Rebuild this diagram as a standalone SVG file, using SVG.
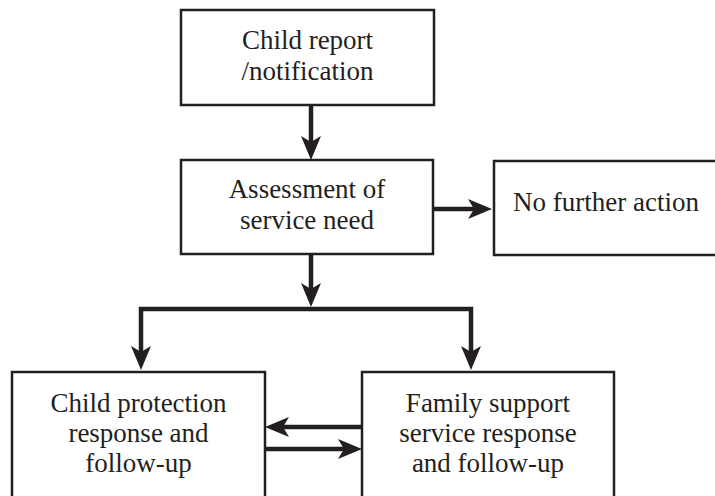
<svg xmlns="http://www.w3.org/2000/svg" width="715" height="496" viewBox="0 0 715 496">
<style>
.box{fill:#fff;stroke:#231f20;stroke-width:2.5}
.lbl{font-family:"Liberation Serif","Times New Roman",serif;font-size:27px;fill:#231f20;text-anchor:middle}
.conn{fill:none;stroke:#231f20;stroke-width:4.5;stroke-linejoin:miter}
</style>
<defs>
<marker id="ah" markerUnits="userSpaceOnUse" viewBox="0 0 24 20" refX="10" refY="10" markerWidth="24" markerHeight="20" orient="auto">
<path d="M0,0 L24,10 L0,20 L6,10 Z" fill="#231f20"/>
</marker>
</defs>
<rect width="715" height="496" fill="#fff"/>
<g id="n1"><rect class="box" x="181" y="10" width="253" height="95"/>
<text class="lbl" x="307.5" y="49">Child report</text><text class="lbl" x="307.5" y="80">/notification</text></g>
<g id="n2"><rect class="box" x="181" y="160" width="252" height="94"/>
<text class="lbl" x="307" y="198">Assessment of</text><text class="lbl" x="307" y="229">service need</text></g>
<g id="n3"><rect class="box" x="494" y="161" width="240" height="94"/>
<text class="lbl" x="606" y="211">No further action</text></g>
<g id="n4"><rect class="box" x="12" y="372" width="253" height="140"/>
<text class="lbl" x="138.5" y="412">Child protection</text><text class="lbl" x="138.5" y="442">response and</text><text class="lbl" x="138.5" y="472">follow-up</text></g>
<g id="n5"><rect class="box" x="362" y="372" width="252" height="140"/>
<text class="lbl" x="488" y="412">Family support</text><text class="lbl" x="488" y="442">service response</text><text class="lbl" x="488" y="472">and follow-up</text></g>
<g id="connectors">
<path class="conn" d="M311,105 V146" marker-end="url(#ah)"/>
<path class="conn" d="M433,209 H478" marker-end="url(#ah)"/>
<path class="conn" d="M311,254 V293" marker-end="url(#ah)"/>
<path class="conn" d="M311,309 H141 V356" marker-end="url(#ah)"/>
<path class="conn" d="M311,309 H471 V356" marker-end="url(#ah)"/>
<path class="conn" d="M362,427 H279" marker-end="url(#ah)"/>
<path class="conn" d="M265,449 H348" marker-end="url(#ah)"/>
</g>
</svg>
